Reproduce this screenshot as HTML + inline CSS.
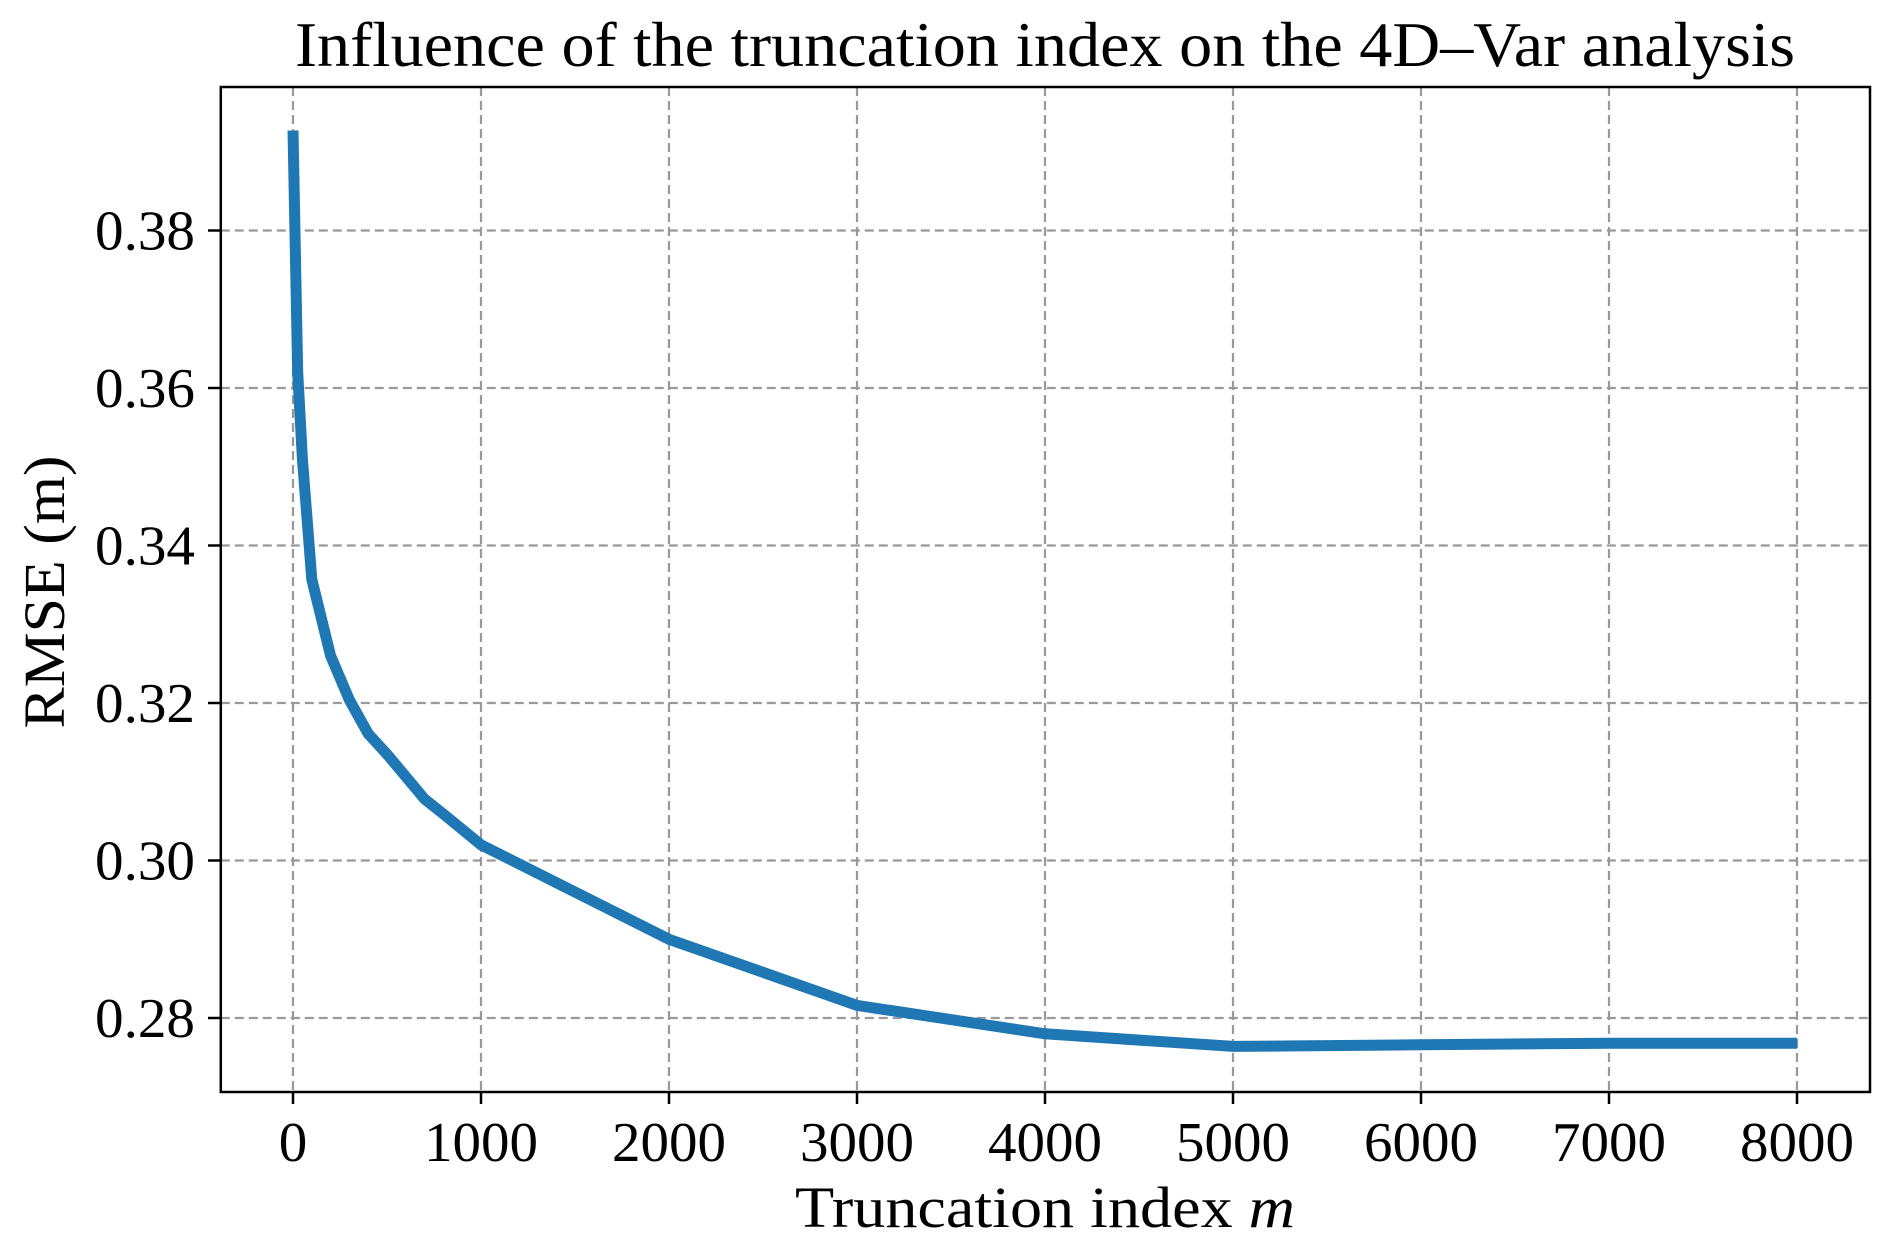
<!DOCTYPE html>
<html><head><meta charset="utf-8"><style>
body{margin:0;background:#fff}
svg text{font-family:"Liberation Serif",serif;fill:#000}
</style></head><body>
<svg id="chart" width="1892" height="1246" xmlns="http://www.w3.org/2000/svg">
<text x="1045" y="66" font-size="64" text-anchor="middle" textLength="1500" lengthAdjust="spacingAndGlyphs">Influence of the truncation index on the 4D–Var analysis</text>
<g id="grid"></g>
<g id="axes"></g>
<path id="line" fill="none" stroke="#1f77b4" stroke-width="11"/>
<rect x="220.8" y="87" width="1649.2" height="1005" fill="none" stroke="#000" stroke-width="2.5"/>
<text x="1045" y="1227" font-size="58" text-anchor="middle" textLength="500" lengthAdjust="spacingAndGlyphs">Truncation index <tspan font-style="italic">m</tspan></text>
<text transform="translate(64,592) rotate(-90)" font-size="58" text-anchor="middle" textLength="273" lengthAdjust="spacingAndGlyphs">RMSE (m)</text>
</svg>
<script>
const mValues=[0,25,50,100,200,300,400,500,700,800,1000,2000,3000,4000,5000,6000,7000,8000];
const rmseValues=[0.3927,0.362,0.351,0.3357,0.326,0.3204,0.3161,0.3135,0.3078,0.3059,0.302,0.290,0.2816,0.278,0.2764,0.2766,0.2768,0.2768];
const xTicks=[0,1000,2000,3000,4000,5000,6000,7000,8000];
const yTicks=[0.28,0.30,0.32,0.34,0.36,0.38];
const yTickLabels=["0.28","0.30","0.32","0.34","0.36","0.38"];
const NS="http://www.w3.org/2000/svg";
function xs(v){return 293+v*(1797-293)/8000;}
function ys(v){return 1018-(v-0.28)*(1018-230.5)/0.10;}
const grid=document.getElementById('grid'),axes=document.getElementById('axes');
function mk(tag,attrs,parent){const e=document.createElementNS(NS,tag);for(const k in attrs)e.setAttribute(k,attrs[k]);parent.appendChild(e);return e;}
xTicks.forEach(t=>{
 const g=mk('line',{x1:xs(t),x2:xs(t),y1:87,y2:1092,stroke:'#999','stroke-width':2.2,'stroke-dasharray':'9,5'},grid);
 
 
 const tk=mk('line',{x1:xs(t),x2:xs(t),y1:1092,y2:1104,stroke:'#000','stroke-width':2.5},axes);
 
 
 const s=String(t);
 const tx=mk('text',{x:xs(t),y:1161,'font-size':56,'text-anchor':'middle',textLength:28.5*s.length,lengthAdjust:'spacingAndGlyphs'},axes);
 tx.textContent=s;
 
 
});
yTicks.forEach((t,i)=>{
 const g=mk('line',{x1:220.8,x2:1870,y1:ys(t),y2:ys(t),stroke:'#999','stroke-width':2.2,'stroke-dasharray':'9,5'},grid);
 
 
 const tk=mk('line',{x1:208,x2:220.8,y1:ys(t),y2:ys(t),stroke:'#000','stroke-width':2.5},axes);
 
 
 const tx=mk('text',{x:195,y:ys(t)+19,'font-size':56,'text-anchor':'end',textLength:100,lengthAdjust:'spacingAndGlyphs'},axes);
 tx.textContent=yTickLabels[i];
 
 
});
document.getElementById('line').setAttribute('d',mValues.map((m,i)=>(i?'L':'M')+xs(m).toFixed(1)+','+ys(rmseValues[i]).toFixed(1)).join(' '));
</script>
</body></html>
